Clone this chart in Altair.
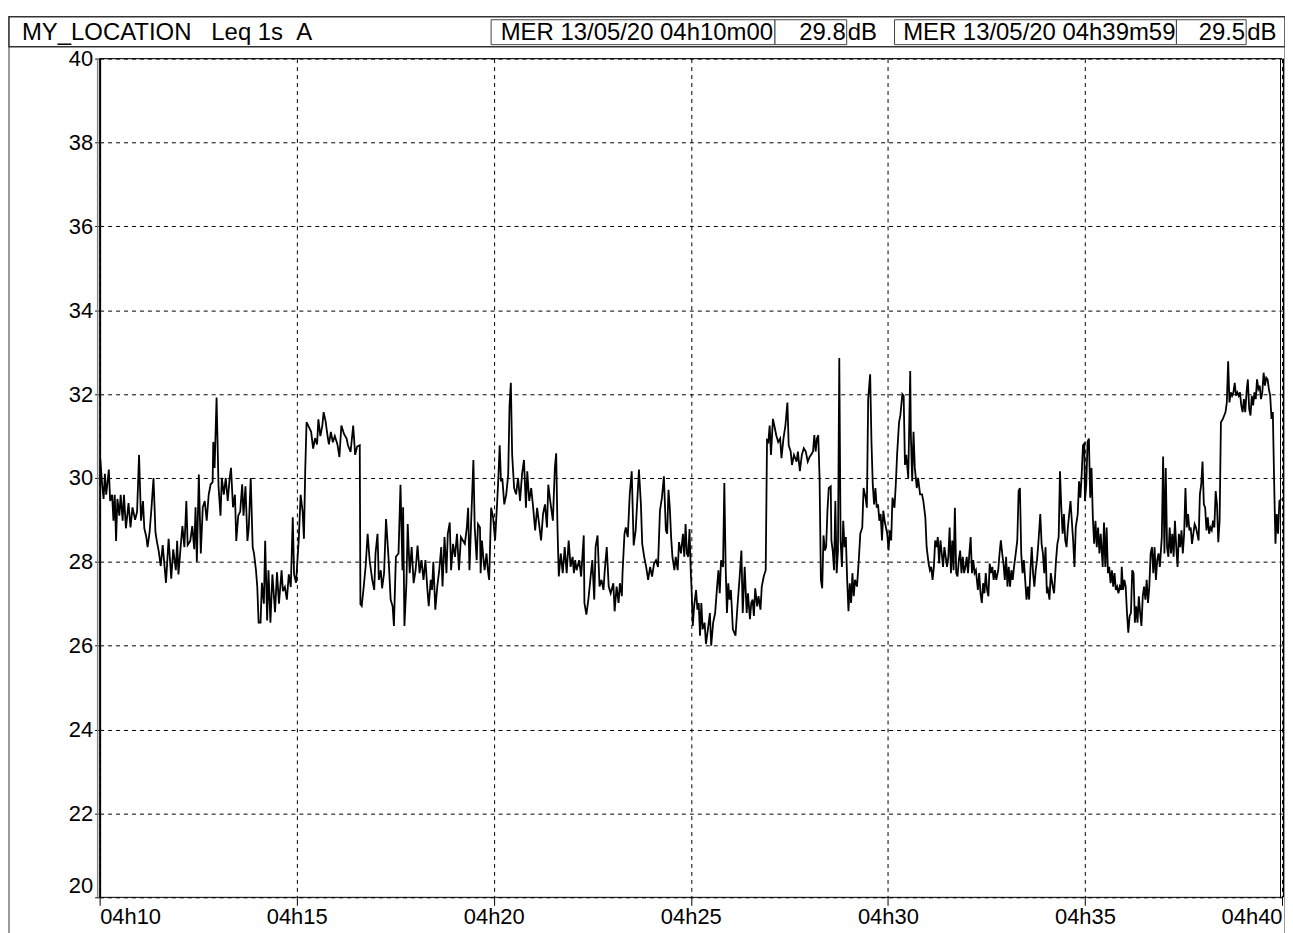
import altair as alt
import pandas as pd

# ---------------- data ----------------
seconds = [
    0, 1, 4, 6, 8, 10, 14, 16, 19, 21, 23, 25, 27, 30, 32, 35, 37, 40, 44, 47,
    50, 54, 57, 60, 63, 66, 68, 71, 73, 76, 79, 82, 85, 87, 90, 93, 96, 101, 105, 109,
    112, 116, 118, 120, 123, 126, 129, 132, 134, 138, 141, 144, 146, 148, 151, 154, 157, 160, 163, 166,
    169, 172, 173, 175, 178, 181, 184, 186, 189, 192, 195, 198, 200, 203, 206, 208, 211, 214, 217, 219,
    222, 225, 227, 230, 233, 235, 238, 240, 242, 245, 247, 250, 252, 255, 257, 260, 263, 267, 270, 273,
    277, 279, 282, 285, 288, 291, 294, 296, 299, 303, 306, 309, 311, 313, 315, 319, 322, 325, 328, 331,
    333, 336, 339, 341, 344, 347, 349, 352, 355,
    358, 362, 365, 368, 372, 376, 378, 382, 386, 389, 392, 396, 397, 399, 402, 405, 408, 411, 415, 418,
    420, 423, 425, 428, 430, 433, 436, 440, 443, 446, 448, 451, 455, 458, 461, 462, 464, 467, 469, 472,
    475, 478, 481, 484, 487, 490, 493, 496, 499, 501, 504, 506, 508, 511, 514, 517, 520, 522, 525, 528,
    530, 533, 535, 538, 541, 544, 547, 550, 553, 556, 559, 561, 563, 566, 569, 571, 574, 576, 579, 580,
    582, 584, 586, 589, 591, 593, 596, 599, 602, 605, 607, 609, 611, 613, 616, 619, 622, 624, 626, 628,
    631, 634, 637, 640, 643, 646, 649, 651, 654, 657, 660, 663, 666, 669, 672, 675, 678, 681, 683, 686,
    690, 693, 695, 697, 699, 702, 705, 708, 711, 714, 717,
    720, 722, 724, 726, 730, 733, 737, 738, 741, 744, 747, 750, 753, 755, 758, 761, 764, 767, 769, 772,
    775, 778, 782, 784, 787, 790, 792, 795, 796, 799, 801, 804, 807, 810, 813, 816, 819, 821, 824, 826,
    829, 832, 835, 838, 841, 844, 847, 850, 853, 856, 859, 862, 864, 866, 868, 870, 872, 875, 877, 880,
    882, 885, 888, 890, 892, 894, 896, 898, 900, 901, 903, 905, 908, 910, 912, 914, 916, 918, 921, 923,
    926, 929, 931, 934, 937, 940, 942, 944, 946, 949, 951, 953, 955, 957, 959, 961, 964, 968, 971, 974,
    977, 979, 982, 985, 987, 990, 992, 994, 996, 998, 1001, 1003, 1006, 1008, 1011, 1014, 1016, 1018, 1020, 1022,
    1025, 1028, 1030, 1033, 1036, 1038, 1041, 1044, 1047, 1049, 1052, 1054, 1057, 1061, 1063, 1066, 1069, 1072, 1075, 1078,
    1081, 1083, 1086, 1088, 1090, 1092, 1094, 1096, 1098, 1100, 1102, 1104, 1106, 1108, 1110, 1113, 1114, 1116, 1118, 1120,
    1122, 1124, 1126, 1128, 1130, 1132, 1134, 1136, 1138, 1140, 1142, 1144, 1146, 1148, 1150, 1153, 1156, 1158, 1161, 1163,
    1166, 1168, 1170, 1173, 1175, 1177, 1179, 1181, 1183, 1185, 1187, 1189, 1191, 1193, 1195, 1197, 1199, 1201, 1203, 1205,
    1207, 1210, 1212, 1214, 1217, 1219, 1222, 1224, 1226, 1228, 1231, 1234, 1235, 1237, 1239, 1241, 1244, 1246, 1249, 1252,
    1254, 1257, 1259, 1262, 1264, 1266, 1268, 1270, 1272, 1274, 1276, 1278, 1280, 1282, 1284, 1286, 1288, 1290, 1292, 1294,
    1296, 1298, 1300, 1302, 1304, 1306, 1308, 1310, 1312, 1314, 1316, 1318, 1320, 1322, 1324, 1326, 1328, 1330, 1332, 1334,
    1337, 1339, 1341, 1343, 1345, 1347, 1349, 1351, 1353, 1355, 1357, 1359, 1361, 1363, 1365, 1368, 1370, 1372, 1374, 1376,
    1378, 1380, 1382, 1384, 1386, 1388, 1390, 1392, 1394, 1397, 1399, 1401, 1403, 1405, 1407, 1409, 1411, 1413, 1415, 1417,
    1419, 1421, 1423, 1425, 1427, 1429, 1432, 1434, 1436, 1438, 1440,
    1442, 1443, 1446, 1448, 1451, 1453, 1456, 1458, 1460, 1462, 1464, 1466, 1468, 1470, 1472, 1474, 1476, 1478, 1480, 1482,
    1484, 1486, 1489, 1491, 1493, 1495, 1497, 1499, 1500, 1502, 1504, 1506, 1508, 1510, 1512, 1514, 1516, 1518, 1520, 1522,
    1524, 1527, 1529, 1531, 1533, 1535, 1537, 1539, 1541, 1543, 1545, 1547, 1549, 1551, 1553, 1555, 1556, 1558, 1560, 1562,
    1564, 1566, 1568, 1570, 1572, 1574, 1576, 1578, 1580, 1582, 1584, 1586, 1588, 1590, 1592, 1594, 1596, 1598, 1600, 1602,
    1604, 1606, 1608, 1610, 1612, 1614, 1617, 1619, 1621, 1623, 1625, 1627, 1629, 1631, 1633, 1635, 1637, 1639, 1641, 1643,
    1645, 1647, 1649, 1651, 1653, 1655, 1657, 1659, 1661, 1663, 1665, 1667, 1669, 1671, 1673, 1675, 1677, 1679, 1681, 1683,
    1685, 1687, 1689, 1691, 1693, 1695, 1697, 1699, 1701, 1703, 1705, 1707, 1710, 1712, 1714, 1716, 1718, 1720, 1722, 1724,
    1726, 1728, 1730, 1732, 1734, 1736, 1738, 1740, 1742, 1744, 1746, 1748, 1750, 1752, 1754, 1756, 1758, 1760, 1762, 1764,
    1766, 1768, 1770, 1772, 1774, 1776, 1778, 1780, 1782, 1784, 1786, 1788, 1790, 1792, 1794, 1796, 1799,
]

leq_db = [
    29.8, 30.45, 29.8, 29.5, 30.1, 29.6, 30.2, 29.45, 29.6, 28.98, 29.6, 28.5, 29.5, 29.1, 29.6, 28.98, 29.6, 28.8, 29.4, 28.82,
    29.3, 29.0, 29.2, 30.55, 28.98, 29.45, 28.8, 28.6, 28.35, 28.7, 29.3, 30.0, 28.7, 28.5, 28.25, 27.9, 28.4, 27.5, 28.55, 27.6,
    28.3, 27.8, 28.5, 27.7, 28.3, 28.85, 28.35, 29.45, 28.4, 28.5, 28.85, 28.3, 29.3, 28.0, 30.08, 28.2, 29.3, 29.45, 28.98, 29.6,
    29.85, 29.9, 30.86, 30.24, 31.92, 29.8, 29.1, 30.0, 29.6, 30.0, 29.45, 30.0, 30.24, 29.3, 29.6, 28.5, 29.1, 29.2, 29.85, 29.1,
    29.8, 28.5, 28.8, 30.0, 28.35, 28.2, 27.8, 27.4, 26.55, 26.55, 27.5, 27.0, 28.5, 26.6, 27.8, 26.55, 27.7, 26.8, 27.75, 27.0,
    27.8, 27.3, 27.4, 27.1, 27.7, 27.4, 29.06, 27.7, 27.5, 28.5, 29.6, 29.2, 28.55, 30.2, 31.33, 31.2, 31.1, 30.7, 30.95, 30.8,
    31.4, 31.0, 31.25, 31.57, 31.35, 31.0, 30.8, 31.1, 30.85,
    31.0, 30.8, 30.5, 31.25, 31.05, 30.94, 30.78, 30.62, 31.25, 30.55, 30.75, 30.78, 26.99, 26.95, 27.4, 27.9, 28.67, 28.04, 27.57, 27.33,
    28.2, 28.67, 27.57, 27.8, 27.37, 27.73, 29.02, 28.04, 27.1, 26.94, 26.47, 28.12, 28.2, 29.84, 27.8, 29.3, 26.47, 27.49, 28.9, 27.73,
    28.35, 27.49, 27.8, 28.39, 27.73, 28.04, 27.57, 28.04, 27.33, 26.94, 27.57, 27.33, 28.0, 26.86, 27.41, 27.8, 28.35, 27.41, 28.59, 27.73,
    28.67, 28.94, 27.8, 28.43, 28.12, 28.67, 27.8, 28.59, 28.51, 28.43, 28.82, 29.29, 27.8, 29.14, 30.43, 28.82, 28.04, 28.9, 28.82, 27.73,
    28.51, 28.12, 27.8, 28.2, 27.8, 27.57, 29.29, 29.06, 28.51, 29.37, 30.0, 30.78, 29.92, 30.0, 29.37, 29.61, 30.08, 31.73, 32.27, 30.55,
    29.76, 29.61, 30.0, 29.45, 30.08, 30.43, 29.29, 30.16, 29.45, 29.76, 29.29, 28.75, 29.29, 28.9, 28.51, 29.14, 29.37, 28.82, 29.84, 29.45,
    28.98, 30.24, 30.59, 28.82, 27.65, 28.2, 27.73, 28.35, 27.73, 28.51, 27.88,
    28.12, 27.73, 28.04, 27.8, 28.04, 27.65, 28.63, 27.02, 26.74, 27.1, 27.57, 28.04, 27.1, 28.35, 28.63, 27.41, 27.57, 27.33, 27.8, 28.35,
    27.41, 27.25, 27.49, 26.82, 27.41, 27.02, 27.49, 27.18, 27.73, 28.67, 28.82, 28.59, 29.61, 30.16, 28.39, 28.75, 29.61, 30.2, 29.37, 28.43,
    28.12, 27.88, 27.57, 27.88, 27.65, 27.96, 28.04, 27.88, 29.22, 29.53, 30.04, 28.75, 28.67, 29.72, 29.29, 28.59, 28.12, 27.8, 28.12, 27.8,
    28.47, 28.2, 28.67, 28.12, 28.9, 28.2, 28.12, 28.78, 27.73, 27.41, 26.47, 26.94, 27.33, 26.86, 27.02, 26.24, 27.02, 26.39, 26.55, 26.04,
    26.39, 26.78, 26.0, 26.55, 26.78, 27.41, 27.8, 27.25, 28.04, 27.88, 29.88, 27.88, 26.78, 27.49, 27.1, 27.33, 26.39, 26.24, 26.94, 27.57,
    28.27, 26.78, 27.88, 26.78, 27.25, 26.63, 27.02, 27.1, 26.71, 27.37, 26.94, 27.18, 26.86, 27.41, 27.65, 27.8, 30.9, 30.86, 31.25, 30.55,
    31.41, 31.18, 31.02, 30.86, 30.94, 30.47, 30.94, 31.25, 31.8, 30.78, 30.63, 30.31, 30.55, 30.39, 30.63, 30.16, 30.55, 30.71, 30.63, 30.39,
    30.51, 30.55, 30.63, 31.02, 30.63, 30.94, 31.02, 30.0, 27.57, 27.37, 28.63, 28.27, 28.35, 29.22, 29.76, 29.8, 28.51, 28.27, 27.8, 29.45,
    27.73, 28.27, 32.86, 28.51, 27.88, 28.98, 28.35, 28.59, 27.57, 26.82, 27.49, 27.02, 27.73, 27.18, 27.57, 27.41, 28.12, 28.67, 28.82, 29.76,
    29.53, 29.29, 31.88, 32.47, 30.86, 29.84, 29.37, 29.76, 29.29, 29.37, 28.98, 29.14, 28.51, 29.22, 28.98, 28.82, 28.67, 28.27, 28.75, 28.51,
    29.53, 29.29, 29.84, 30.55, 31.33, 31.49, 32.0, 31.96, 30.31, 30.55, 30.0, 32.55, 31.02, 29.92, 31.1, 30.24, 29.76, 30.0, 29.61, 29.61,
    29.45, 29.06, 28.35, 27.96, 27.8, 27.88, 27.57, 27.88, 28.51, 28.35, 28.59, 27.96, 28.51, 28.2, 27.88, 28.35, 28.12, 27.88, 28.12, 28.82,
    27.73, 28.51, 27.8, 29.29, 27.73, 27.65, 28.04, 28.27, 27.73, 28.12, 27.73, 27.88, 28.12, 27.73, 28.2, 28.59, 27.73, 28.04, 27.73, 27.8,
    27.33, 27.73, 27.25, 27.02, 27.49, 27.25, 27.73, 27.33, 27.18, 27.96, 27.73, 27.88, 27.57, 27.8, 27.57, 27.8, 28.2, 28.51, 28.2, 27.96,
    27.57, 28.12, 27.41, 27.88, 27.41, 27.8, 27.57, 27.88, 28.12, 28.51, 29.69, 29.76, 28.2, 27.73, 28.04, 27.57, 27.1, 27.41, 27.1, 27.8,
    28.35, 27.73, 27.41, 27.8, 28.04, 28.43, 29.14, 28.43, 28.2, 27.73, 28.35,
    27.25, 27.41, 27.1, 27.73, 27.41, 27.25, 28.04, 28.43, 28.59, 30.16, 29.29, 28.67, 29.14, 28.51, 28.35, 28.82, 29.14, 29.45, 28.98, 28.51,
    27.88, 28.82, 29.14, 29.92, 29.53, 30.08, 30.78, 30.82, 29.45, 29.84, 30.86, 30.94, 29.53, 30.24, 29.06, 28.43, 28.98, 28.35, 28.82, 28.2,
    28.67, 27.88, 28.94, 27.88, 28.82, 27.73, 27.88, 27.49, 27.8, 27.41, 27.73, 27.33, 27.41, 27.25, 27.41, 27.33, 27.88, 27.33, 27.57, 27.41,
    26.78, 26.31, 26.71, 26.78, 27.8, 27.73, 26.55, 26.94, 26.55, 27.18, 26.78, 26.47, 27.18, 27.41, 27.1, 27.57, 27.02, 27.41, 28.2, 28.35,
    27.73, 28.35, 27.57, 28.04, 28.2, 27.88, 28.59, 30.51, 28.2, 30.24, 28.35, 28.12, 28.82, 28.2, 28.67, 28.12, 28.98, 28.35, 27.88, 28.67,
    28.35, 28.75, 28.2, 28.67, 29.76, 28.82, 29.14, 28.75, 28.82, 28.43, 28.67, 28.9, 28.82, 28.67, 28.51, 29.61, 29.84, 30.39, 29.37, 29.29,
    28.75, 29.06, 28.67, 28.82, 28.75, 28.98, 28.82, 29.69, 29.37, 28.47, 28.98, 31.33, 31.41, 31.49, 31.57, 31.8, 32.78, 31.8, 32.04, 31.96,
    32.04, 32.27, 31.96, 32.04, 31.96, 32.04, 31.73, 31.57, 31.88, 31.57, 32.04, 32.35, 31.65, 31.49, 31.96, 31.73, 32.04, 31.88, 32.35, 32.12,
    32.2, 31.88, 32.04, 32.51, 32.2, 32.39, 32.35, 32.12, 31.96, 31.41, 31.57, 29.92, 28.43, 29.14, 28.67, 29.45, 29.5,
]

x_tick_seconds = [0, 300, 600, 900, 1200, 1500, 1800]
y_ticks = [20, 22, 24, 26, 28, 30, 32, 34, 36, 38, 40]

NB = "\u00a0"
header_left = "MY_LOCATION" + NB * 3 + "Leq 1s" + NB * 2 + "A"
cursor1_label = "MER 13/05/20 04h10m00"
cursor1_value = "29.8"
cursor2_label = "MER 13/05/20 04h39m59"
cursor2_value = "29.5"
unit = "dB"

# ---------------- chart ----------------
W, H = 1187, 842
FONT = "Liberation Sans"

df = pd.DataFrame({"t": seconds, "db": leq_db})
one = pd.DataFrame({"k": [0]})

line = alt.Chart(df).mark_line(color="black", strokeWidth=1.8, clip=True).encode(
    x=alt.X(
        "t:Q",
        scale=alt.Scale(domain=[0, 1800], nice=False, zero=False),
        axis=alt.Axis(
            values=x_tick_seconds,
            labelExpr="'04h' + format(10 + datum.value / 60, '02d')",
            title=None, grid=True, gridDash=[4, 4], gridColor="black", gridWidth=1,
            domain=False, ticks=True, tickSize=8, tickColor="black", tickWidth=1,
            labelFlush=True, labelFont=FONT, labelFontSize=22, labelColor="black",
            labelPadding=1,
        ),
    ),
    y=alt.Y(
        "db:Q",
        scale=alt.Scale(domain=[20, 40], nice=False, zero=False),
        axis=alt.Axis(
            values=y_ticks, format="d",
            title=None, grid=True, gridDash=[4, 4], gridColor="black", gridWidth=1,
            domain=False, ticks=True, tickSize=5, tickColor="black", tickWidth=1,
            labelFlush=False,
            labelBaseline=alt.condition("datum.value == 20", alt.value("bottom"), alt.value("middle")),
            labelFont=FONT, labelFontSize=22, labelColor="black",
            labelPadding=2,
        ),
    ),
)


def rule(x, x2, y, y2, color="black", width=1.0):
    return alt.Chart(one).mark_rule(color=color, strokeWidth=width).encode(
        x=alt.value(x), x2=alt.value(x2), y=alt.value(y), y2=alt.value(y2)
    )


def box(x, x2, y, y2, stroke="#333333", width=1.0):
    return alt.Chart(one).mark_rect(fill="white", stroke=stroke, strokeWidth=width).encode(
        x=alt.value(x), x2=alt.value(x2), y=alt.value(y), y2=alt.value(y2)
    )


def label(text, x, y, align="left"):
    return alt.Chart(one).mark_text(
        font=FONT, fontSize=24, color="black", align=align, baseline="alphabetic"
    ).encode(x=alt.value(x), y=alt.value(y), text=alt.value(text))


# frame of the whole figure and the header
outer = alt.Chart(one).mark_rect(fill=None, stroke="#7a7a7a", strokeWidth=1.5).encode(
    x=alt.value(-91), x2=alt.value(1190), y=alt.value(-42), y2=alt.value(900)
)
header = box(-91, 1190, -42, -12, stroke="#333333", width=1.5)
b1 = box(393, 678, -39, -14, stroke="#444444")
b2 = box(678, 750, -39, -14, stroke="#444444")
b3 = box(798, 1081, -39, -14, stroke="#444444")
b4 = box(1081, 1151, -39, -14, stroke="#444444")

texts = [
    label(header_left, -78, -19),
    label(cursor1_label, 676, -19, "right"),
    label(cursor1_value, 749, -19, "right"),
    label(unit, 751, -19),
    label(cursor2_label, 1080, -19, "right"),
    label(cursor2_value, 1150, -19, "right"),
    label(unit, 1152, -19),
]

# plot-area frame
frame = [
    rule(0, W, 0, 0),
    rule(0, W, H, H),
    rule(-2, -2, 0, H, color="#888888", width=1.5),
    rule(0.5, 0.5, 0, H, width=2),
    rule(W - 1.5, W - 1.5, 0, H),
    rule(W + 1.5, W + 1.5, 0, H),
]

chart = alt.layer(outer, header, b1, b2, b3, b4, *texts, line, *frame).properties(
    width=W, height=H,
    autosize=alt.AutoSizeParams(type="none"),
    padding={"left": 92, "top": 49, "right": 3, "bottom": 34},
).configure_view(stroke=None).configure(background="white")

chart.save("out.html", embed_options={"renderer": "svg", "actions": False})
